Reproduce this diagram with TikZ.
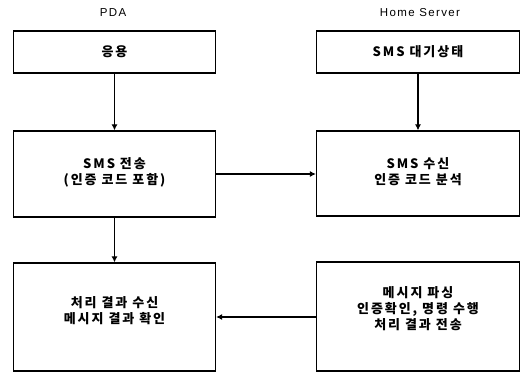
\documentclass[tikz,border=0pt]{standalone}
\usepackage{fontspec}
\setmainfont{Liberation Sans}
\newfontfamily\kr{Noto Sans CJK KR}[LetterSpace=15]
\newfontfamily\hdr{Liberation Sans}[LetterSpace=12]
\usetikzlibrary{arrows.meta}
\begin{document}
\begin{tikzpicture}[x=1pt,y=-1pt,
  boxstyle/.style={draw,line width=1.2pt,inner sep=0pt,font=\kr\fontsize{13}{16.5}\selectfont\bfseries,align=center},
  textstyle/.style={inner sep=0pt,font=\kr\fontsize{13}{16}\selectfont\bfseries,align=center},
  headstyle/.style={font=\hdr\fontsize{11.5}{13}\selectfont},
  conn/.style={line width=1.1pt,-{Latex[length=6pt,width=6pt]}}]
\useasboundingbox (0,0) rectangle (525,372);
\node[headstyle] (pda) at (113,13) {PDA};
\node[headstyle] (hs) at (420,13) {Home Server};
\node[boxstyle,minimum width=202pt,minimum height=42pt] (app) at (114.5,52) {응용};
\node[boxstyle,minimum width=203pt,minimum height=42pt] (wait) at (418,52) {SMS 대기상태};
\node[boxstyle,minimum width=202pt,minimum height=86pt] (send) at (114.5,174) {};
\node[textstyle] (sendtext) at (114.5,172) {SMS 전송\\(인증 코드 포함)};
\node[boxstyle,minimum width=203pt,minimum height=85pt] (recv) at (418,173.5) {};
\node[textstyle] (recvtext) at (418,171.5) {SMS 수신\\인증 코드 분석};
\node[boxstyle,minimum width=202pt,minimum height=108pt] (res) at (114.5,317) {};
\node[textstyle] (restext) at (114.5,311) {처리 결과 수신\\메시지 결과 확인};
\node[boxstyle,minimum width=203pt,minimum height=109pt] (parse) at (418,316.5) {};
\node[textstyle] (parsetext) at (418,309) {메시지 파싱\\인증확인, 명령 수행\\처리 결과 전송};
\draw[conn] (app.south) -- (send.north);
\draw[conn] (wait.south) -- (recv.north);
\draw[conn] (send.east |- 0,174) -- (recv.west |- 0,174);
\draw[conn] (send.south) -- (res.north);
\draw[conn] (parse.west |- 0,317) -- (res.east |- 0,317);
\end{tikzpicture}
\end{document}
